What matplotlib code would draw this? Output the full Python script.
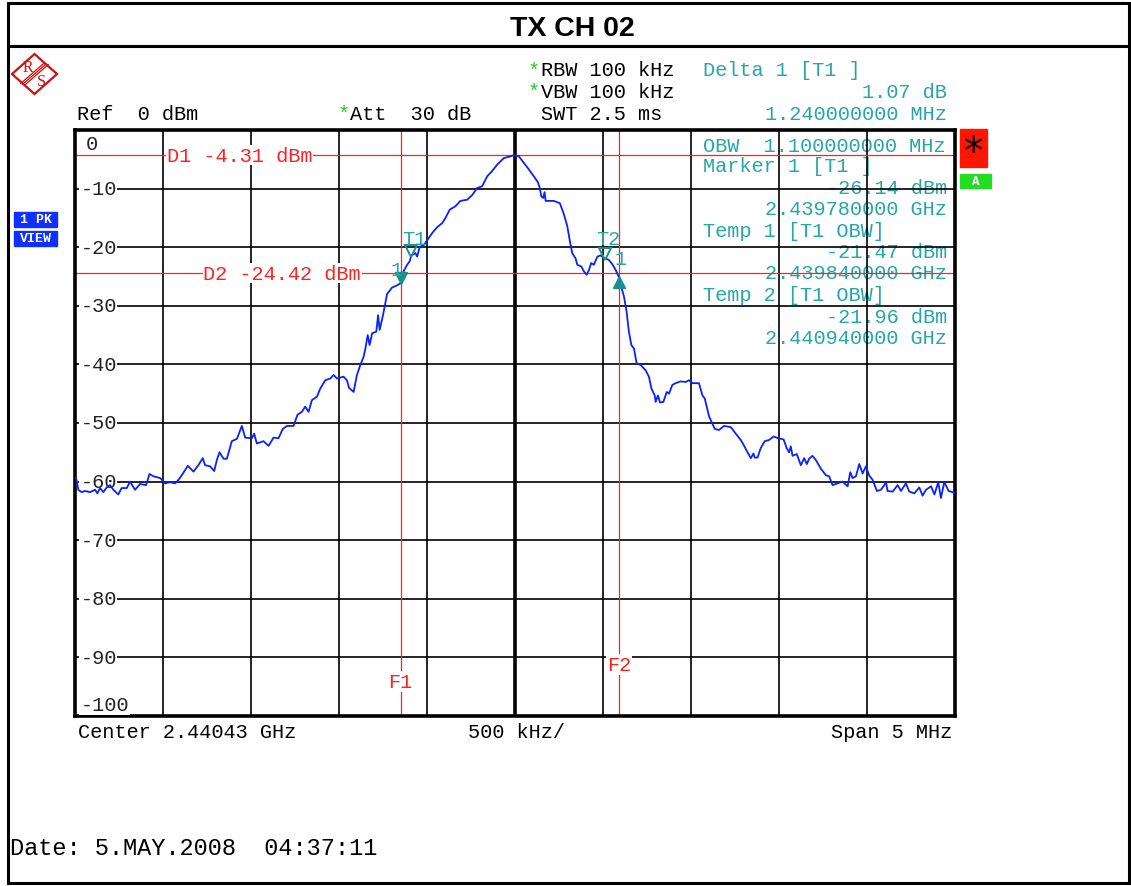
import numpy as np
import matplotlib
matplotlib.use("Agg")
import matplotlib.pyplot as plt
from matplotlib.patches import Rectangle, Polygon

# ------------------- values -------------------
title = "TX CH 02"
center_ghz = 2.44043
span_mhz = 5.0
y_levels = [0, -10, -20, -30, -40, -50, -60, -70, -80, -90, -100]

# trace: offset from center [MHz] and level [dBm]
freq_mhz = [
    -2.494, -2.481, -2.462, -2.443, -2.415, -2.386, -2.373, -2.358, -2.339, -2.320,
    -2.301, -2.282, -2.254, -2.235, -2.206, -2.187, -2.159, -2.130, -2.096, -2.077,
    -2.054, -2.016, -1.988, -1.960, -1.931, -1.912, -1.893, -1.859, -1.827, -1.799,
    -1.774, -1.761, -1.732, -1.709, -1.694, -1.679, -1.656, -1.637, -1.609, -1.580,
    -1.552, -1.533, -1.495, -1.482, -1.467, -1.429, -1.400, -1.372, -1.344, -1.319,
    -1.296, -1.258, -1.236, -1.211, -1.192, -1.173, -1.154, -1.125, -1.106, -1.078,
    -1.049, -1.031, -1.012, -0.974, -0.955, -0.943, -0.917, -0.898, -0.879, -0.860,
    -0.850, -0.837, -0.826, -0.812, -0.788, -0.778, -0.769, -0.750, -0.727, -0.699,
    -0.670, -0.650, -0.640, -0.633, -0.613, -0.598, -0.590, -0.566, -0.556, -0.541,
    -0.519, -0.496, -0.471, -0.443, -0.414, -0.395, -0.371, -0.338, -0.310, -0.272,
    -0.243, -0.215, -0.187, -0.158, -0.130, -0.101, -0.064, -0.026, -0.007, 0.022,
    0.050, 0.078, 0.107, 0.130, 0.141, 0.149, 0.160, 0.168, 0.174, 0.221,
    0.255, 0.278, 0.297, 0.312, 0.325, 0.344, 0.354, 0.377, 0.391, 0.407,
    0.420, 0.433, 0.448, 0.468, 0.486, 0.510, 0.521, 0.534, 0.553, 0.572,
    0.590, 0.600, 0.619, 0.634, 0.647, 0.661, 0.676, 0.691, 0.714, 0.742,
    0.761, 0.775, 0.794, 0.799, 0.812, 0.824, 0.843, 0.862, 0.875, 0.894,
    0.913, 0.941, 0.970, 0.989, 1.008, 1.045, 1.065, 1.078, 1.102, 1.112,
    1.135, 1.159, 1.188, 1.226, 1.254, 1.283, 1.302, 1.321, 1.340, 1.355,
    1.362, 1.378, 1.396, 1.419, 1.444, 1.469, 1.495, 1.526, 1.544, 1.557,
    1.567, 1.577, 1.601, 1.624, 1.643, 1.658, 1.671, 1.690, 1.709, 1.738,
    1.766, 1.785, 1.804, 1.833, 1.861, 1.890, 1.905, 1.918, 1.937, 1.956,
    1.975, 1.994, 2.013, 2.032, 2.056, 2.079, 2.094, 2.108, 2.117, 2.146,
    2.174, 2.193, 2.221, 2.240, 2.269, 2.297, 2.316, 2.335, 2.364, 2.383,
    2.405, 2.420, 2.439, 2.464, 2.496,
]
level_dbm = [
    -59.4, -61.4, -61.8, -61.6, -61.8, -61.4, -62.0, -61.1, -61.8, -61.0,
    -60.6, -61.4, -62.2, -61.1, -61.1, -60.0, -61.4, -60.4, -60.6, -58.7,
    -59.1, -59.4, -60.3, -60.1, -60.3, -59.7, -58.9, -57.3, -58.3, -57.2,
    -56.0, -57.2, -57.4, -58.2, -56.3, -55.0, -56.1, -56.1, -53.1, -52.7,
    -50.5, -52.5, -52.6, -51.8, -53.5, -53.1, -53.9, -52.5, -52.6, -51.0,
    -50.5, -50.5, -48.6, -48.1, -47.2, -48.1, -46.1, -45.5, -44.1, -42.7,
    -42.4, -41.8, -42.4, -42.1, -42.7, -44.0, -44.7, -41.8, -40.1, -38.7,
    -37.3, -35.0, -36.7, -34.7, -34.4, -31.6, -34.1, -31.6, -28.0, -26.9,
    -26.5, -26.14, -25.0, -24.1, -23.0, -22.4, -21.47, -21.0, -21.6, -19.9,
    -19.7, -18.7, -17.6, -16.6, -15.9, -15.0, -13.6, -13.0, -12.1, -11.9,
    -11.1, -9.9, -9.6, -7.9, -7.0, -5.9, -4.8, -4.5, -4.31, -4.5,
    -5.6, -6.7, -7.9, -8.9, -9.9, -11.3, -11.6, -10.6, -12.1, -12.1,
    -12.5, -14.4, -16.4, -19.0, -21.0, -21.9, -23.0, -23.3, -24.1, -24.7,
    -23.9, -22.7, -23.0, -21.6, -21.4, -21.96, -22.0, -22.2, -22.9, -23.9,
    -25.07, -26.4, -28.4, -31.0, -34.4, -36.7, -37.3, -39.8, -40.1, -41.0,
    -42.1, -44.1, -45.3, -46.4, -45.3, -46.5, -46.4, -44.7, -45.0, -43.5,
    -43.2, -42.9, -43.0, -42.7, -43.2, -43.2, -45.3, -45.8, -48.8, -49.5,
    -51.0, -51.2, -50.5, -50.7, -51.8, -52.9, -53.9, -55.0, -56.0, -55.2,
    -55.9, -55.9, -54.3, -53.1, -52.9, -52.3, -52.6, -52.8, -54.3, -55.0,
    -54.0, -55.6, -55.3, -57.2, -56.0, -57.0, -56.1, -55.6, -56.3, -57.8,
    -58.9, -59.1, -60.6, -60.3, -60.0, -60.8, -58.4, -59.4, -59.1, -57.0,
    -58.6, -57.4, -59.0, -59.7, -61.6, -61.4, -60.8, -60.1, -61.6, -61.7,
    -60.6, -61.6, -60.3, -61.7, -62.0, -61.0, -62.4, -61.4, -60.8, -62.2,
    -60.1, -62.8, -60.1, -61.6, -61.9,
]

d1_dbm = -4.31
d2_dbm = -24.42
marker1_ghz, marker1_dbm = 2.439780, -26.14
temp1_ghz, temp1_dbm = 2.439840, -21.47
temp2_ghz, temp2_dbm = 2.440940, -21.96
delta1_mhz, delta1_db = 1.24, 1.07
obw_mhz = 1.1

# ------------------------------- colours / fonts -------------------------------
MONO = ["Liberation Mono", "DejaVu Sans Mono"]
TEAL = "#26a7a7"
MRK = "#17908f"
RED = "#ff2020"
BLUE = "#0a22ff"
FS = 14.6

W, H = 1131, 887
fig = plt.figure(figsize=(W / 100, H / 100), dpi=100)

# background axes in pixel units for the frame / header
bg = fig.add_axes([0, 0, 1, 1])
bg.set_xlim(0, W)
bg.set_ylim(H, 0)
bg.axis("off")

# outer frame and title bar
bg.add_patch(Rectangle((8, 4), 1121, 880, fill=False, lw=2.2, ec="black"))
bg.plot([8, 1129], [46.5, 46.5], color="black", lw=2.2)
bg.text(572, 29, title, ha="center", va="center", fontsize=20.5,
        fontweight="bold", family=["Liberation Sans", "DejaVu Sans"])

# R&S logo
bg.add_patch(Polygon([(12, 75), (34.5, 55), (57, 75), (34.5, 95)], closed=True,
                     fill=False, ec="#cc1111", lw=1.6))
for off in (-2.2, 0, 2.2):
    bg.plot([23 + off, 46 + off], [85 + off * 0.3, 65 + off * 0.3], color="#cc1111", lw=0.9)
bg.text(27.5, 67.5, "R", color="#cc1111", fontsize=11.5, ha="center", va="center",
        family=["Liberation Serif", "DejaVu Serif"])
bg.text(41.5, 82.5, "S", color="#cc1111", fontsize=11.5, ha="center", va="center",
        family=["Liberation Serif", "DejaVu Serif"])

# header lines
hdr = dict(fontsize=FS, family=MONO, va="center")
bg.text(528, 71, "*", color="#22cc22", **hdr)
bg.text(541, 71, "RBW 100 kHz", color="black", **hdr)
bg.text(528, 92, "*", color="#22cc22", **hdr)
bg.text(541, 92, "VBW 100 kHz", color="black", **hdr)
bg.text(77, 114, "Ref  0 dBm", color="black", **hdr)
bg.text(338, 114, "*", color="#22cc22", **hdr)
bg.text(350, 114, "Att  30 dB", color="black", **hdr)
bg.text(541, 114, "SWT 2.5 ms", color="black", **hdr)
bg.text(703, 71, "Delta 1 [T1 ]", color=TEAL, **hdr)
bg.text(947, 92, f"{delta1_db:.2f} dB", color=TEAL, ha="right", **hdr)
bg.text(947, 114, f"{delta1_mhz:.9f} MHz", color=TEAL, ha="right", **hdr)

# marker table inside the screen (drawn below the grid like on the instrument)
rows = [
    (146, "left", f"OBW  {obw_mhz:.9f} MHz"),
    (167, "left", "Marker 1 [T1 ]"),
    (189, "right", f"{marker1_dbm:.2f} dBm"),
    (210, "right", f"{marker1_ghz:.9f} GHz"),
    (232, "left", "Temp 1 [T1 OBW]"),
    (253, "right", f"{temp1_dbm:.2f} dBm"),
    (274, "right", f"{temp1_ghz:.9f} GHz"),
    (296, "left", "Temp 2 [T1 OBW]"),
    (318, "right", f"{temp2_dbm:.2f} dBm"),
    (339, "right", f"{temp2_ghz:.9f} GHz"),
]
for yy, al, s in rows:
    bg.text(947 if al == "right" else 703, yy, s, color=TEAL, ha=al, **hdr)

# side labels
for y0, s in ((213, "1 PK"), (232, "VIEW")):
    bg.add_patch(Rectangle((14, y0), 43, 15, color="#1030ff"))
    bg.text(35.5, y0 + 7.5, s, color="white", fontsize=9.5, fontweight="bold",
            ha="center", va="center", family=MONO)
bg.add_patch(Rectangle((960, 130), 27, 38, color="#ff1500"))
bg.text(973.5, 153, "*", color="black", fontsize=28, ha="center", va="center",
        family=["DejaVu Sans"])
bg.add_patch(Rectangle((960, 175), 31, 14, color="#22dd22"))
bg.text(975.5, 182, "A", color="white", fontsize=9, fontweight="bold",
        ha="center", va="center", family=MONO)

# footer
bg.text(78, 733, f"Center {center_ghz:.5f} GHz", color="black", **hdr)
bg.text(468, 733, f"{span_mhz / 10 * 1000:.0f} kHz/", color="black", **hdr)
bg.text(952, 733, f"Span {span_mhz:.0f} MHz", color="black", ha="right", **hdr)
bg.text(10, 849, "Date: 5.MAY.2008  04:37:11", color="black", fontsize=17,
        family=MONO, va="center")

# ------------------------------- the screen -------------------------------
ax = fig.add_axes([75 / W, 1 - 717 / H, 880 / W, 586 / H])
ax.set_facecolor("none")
ax.set_xlim(-span_mhz / 2, span_mhz / 2)
ax.set_ylim(y_levels[-1], y_levels[0])
ax.set_xticks([])
ax.set_yticks([])
for sp in ax.spines.values():
    sp.set_linewidth(2.6)

xdiv = np.linspace(-span_mhz / 2, span_mhz / 2, 11)[1:-1]
for v in xdiv:
    ax.axvline(v, color="black", lw=2.6 if abs(v) < 1e-9 else 1.2, zorder=1)
for lv in y_levels[1:-1]:
    ax.axhline(lv, color="black", lw=1.2, zorder=1)

# level labels (trace is drawn over them)
lbl = dict(fontsize=FS, family=MONO, va="center", ha="left", color="#222222", zorder=3,
           bbox=dict(facecolor="white", edgecolor="none", pad=0.6))
x_lbl = -span_mhz / 2 + 0.03
for lv in y_levels:
    yl = lv
    if lv == y_levels[0]:
        yl = lv - 2.3
    elif lv == y_levels[-1]:
        yl = lv + 2.0
    ax.text(x_lbl + (0.03 if lv == 0 else 0), yl, f"{lv}", **lbl)

# display lines and frequency lines
f1 = (marker1_ghz - center_ghz) * 1000
f2 = f1 + delta1_mhz
ax.axhline(d1_dbm, color=RED, lw=0.9, zorder=2)
ax.axhline(d2_dbm, color=RED, lw=0.9, zorder=2)
ax.axvline(f1, color=RED, lw=0.9, zorder=2)
ax.axvline(f2, color=RED, lw=0.9, zorder=2)
rl = dict(fontsize=FS, family=MONO, va="center", color=RED, zorder=3,
          bbox=dict(facecolor="white", edgecolor="none", pad=0.4))
ax.text(-1.98, d1_dbm, f"D1 {d1_dbm:.2f} dBm", ha="left", **rl)
ax.text(-1.77, d2_dbm, f"D2 {d2_dbm:.2f} dBm", ha="left", **rl)
ax.text(f1, -94.1, "F1", ha="center", **rl)
ax.text(f2, -91.2, "F2", ha="center", **rl)

# trace
ax.plot(freq_mhz, level_dbm, color=BLUE, lw=1.3, zorder=4)

# markers
t1 = (temp1_ghz - center_ghz) * 1000
t2 = (temp2_ghz - center_ghz) * 1000
ax.plot([f1], [marker1_dbm + 0.8], marker="v", ms=9, color=MRK, ls="none", zorder=5)
ax.plot([f2], [marker1_dbm + delta1_db - 0.8], marker="^", ms=9, color=MRK, ls="none", zorder=5)
for tf, tl in ((t1, temp1_dbm), (t2, temp2_dbm)):
    ax.plot([tf], [tl + 0.8], marker="v", ms=9, mfc="none", mec=MRK, mew=1.4,
            ls="none", zorder=5)
ml = dict(fontsize=FS, family=MONO, color=TEAL, va="center", zorder=5)
ax.text(t1 + 0.02, temp1_dbm + 3.0, "T1", ha="center", **ml)
ax.text(t2 + 0.02, temp2_dbm + 3.5, "T2", ha="center", **ml)
ax.text(f1 - 0.02, marker1_dbm + 2.3, "1", ha="center", **ml)
ax.text(f2 + 0.01, marker1_dbm + delta1_db + 3.1, "1", ha="center", **ml)

fig.savefig("out.png", dpi=100)
